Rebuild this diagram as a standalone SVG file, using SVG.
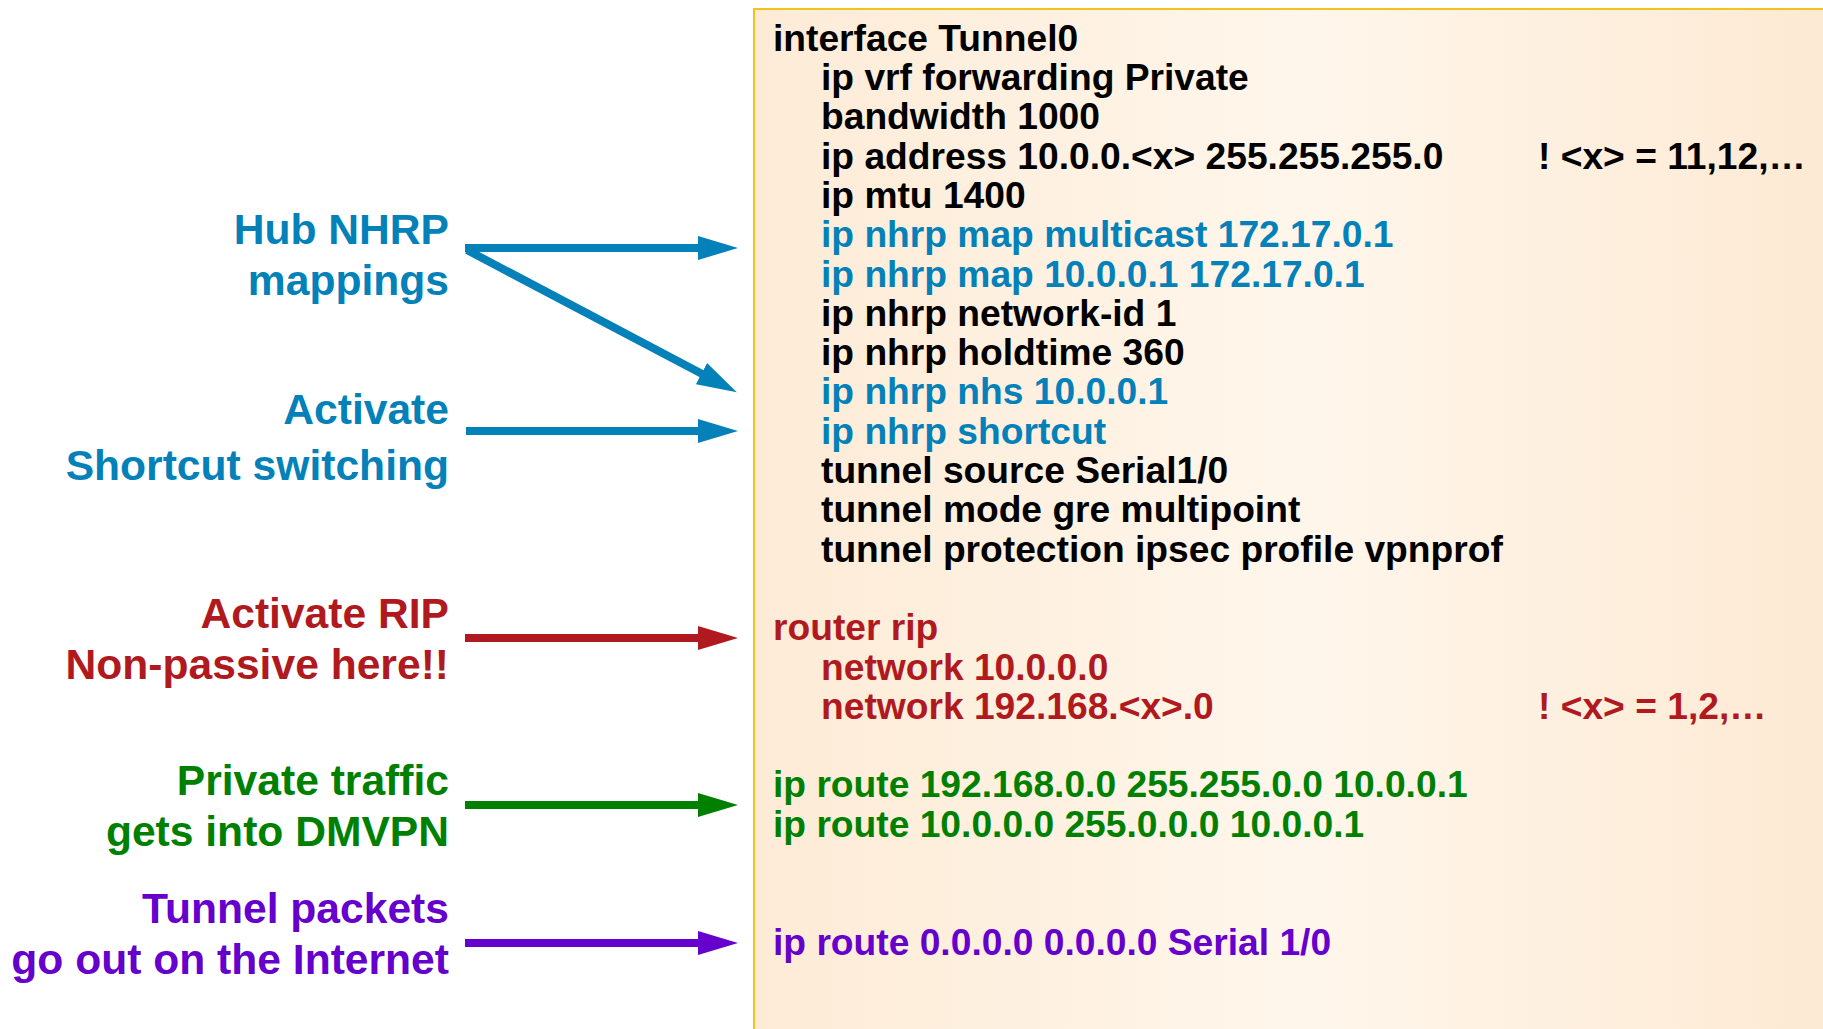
<svg xmlns="http://www.w3.org/2000/svg" width="1823" height="1029" viewBox="0 0 1823 1029">
<defs>
<linearGradient id="boxfill" x1="0" y1="0" x2="1" y2="0">
<stop offset="0" stop-color="#FDEBD6"/>
<stop offset="0.5" stop-color="#FFF6EB"/>
<stop offset="1" stop-color="#FDE9D2"/>
</linearGradient>
<marker id="mBlue" markerUnits="userSpaceOnUse" markerWidth="40" markerHeight="24" refX="10" refY="12" orient="auto"><path d="M0,0 L40,12 L0,24 z" fill="#0381B8"/></marker>
<marker id="mRed" markerUnits="userSpaceOnUse" markerWidth="40" markerHeight="24" refX="10" refY="12" orient="auto"><path d="M0,0 L40,12 L0,24 z" fill="#B01A1E"/></marker>
<marker id="mGreen" markerUnits="userSpaceOnUse" markerWidth="40" markerHeight="24" refX="10" refY="12" orient="auto"><path d="M0,0 L40,12 L0,24 z" fill="#008000"/></marker>
<marker id="mPurple" markerUnits="userSpaceOnUse" markerWidth="40" markerHeight="24" refX="10" refY="12" orient="auto"><path d="M0,0 L40,12 L0,24 z" fill="#6600CC"/></marker>
</defs>
<style>
text{font-family:"Liberation Sans",Arial,sans-serif;font-weight:bold;}
.code{font-size:37.2px;}
.lbl{font-size:42.6px;text-anchor:end;}
.k{fill:#000000;}
.b{fill:#0381B8;}
.r{fill:#B01A1E;}
.g{fill:#008000;}
.p{fill:#6600CC;}
.arr{stroke-width:8;fill:none;stroke-linecap:butt;}
</style>
<rect width="1823" height="1029" fill="#FFFFFF"/>
<g id="config-box">
<rect x="754" y="9" width="1100" height="1100" fill="url(#boxfill)" stroke="#F5C21B" stroke-width="2"/>
<text class="code k" x="773" y="51">interface Tunnel0</text>
<text class="code k" x="821" y="90">ip vrf forwarding Private</text>
<text class="code k" x="821" y="129">bandwidth 1000</text>
<text class="code k" x="821" y="169">ip address 10.0.0.&lt;x&gt; 255.255.255.0</text>
<text class="code k" x="1538" y="169">! &lt;x&gt; = 11,12,…</text>
<text class="code k" x="821" y="208">ip mtu 1400</text>
<text class="code b" x="821" y="247">ip nhrp map multicast 172.17.0.1</text>
<text class="code b" x="821" y="287">ip nhrp map 10.0.0.1 172.17.0.1</text>
<text class="code k" x="821" y="326">ip nhrp network-id 1</text>
<text class="code k" x="821" y="365">ip nhrp holdtime 360</text>
<text class="code b" x="821" y="404">ip nhrp nhs 10.0.0.1</text>
<text class="code b" x="821" y="444">ip nhrp shortcut</text>
<text class="code k" x="821" y="483">tunnel source Serial1/0</text>
<text class="code k" x="821" y="522">tunnel mode gre multipoint</text>
<text class="code k" x="821" y="562">tunnel protection ipsec profile vpnprof</text>
<text class="code r" x="773" y="640">router rip</text>
<text class="code r" x="821" y="680">network 10.0.0.0</text>
<text class="code r" x="821" y="719">network 192.168.&lt;x&gt;.0</text>
<text class="code r" x="1538" y="719">! &lt;x&gt; = 1,2,…</text>
<text class="code g" x="773" y="797">ip route 192.168.0.0 255.255.0.0 10.0.0.1</text>
<text class="code g" x="773" y="837">ip route 10.0.0.0 255.0.0.0 10.0.0.1</text>
<text class="code p" x="773" y="955">ip route 0.0.0.0 0.0.0.0 Serial 1/0</text>
</g>
<g id="label-hub">
<text class="lbl b" x="449" y="244">Hub NHRP</text>
<text class="lbl b" x="449" y="295">mappings</text>
</g>
<g id="label-shortcut">
<text class="lbl b" x="449" y="424">Activate</text>
<text class="lbl b" x="449" y="480">Shortcut switching</text>
</g>
<g id="label-rip">
<text class="lbl r" x="449" y="628">Activate RIP</text>
<text class="lbl r" x="449" y="679">Non-passive here!!</text>
</g>
<g id="label-private">
<text class="lbl g" x="449" y="795">Private traffic</text>
<text class="lbl g" x="449" y="846">gets into DMVPN</text>
</g>
<g id="label-tunnel">
<text class="lbl p" x="449" y="923">Tunnel packets</text>
<text class="lbl p" x="449" y="974">go out on the Internet</text>
</g>
<g id="connectors">
<line class="arr" x1="465" y1="248" x2="708" y2="248" stroke="#0381B8" marker-end="url(#mBlue)"/>
<line class="arr" x1="467" y1="250" x2="710.3" y2="378.3" stroke="#0381B8" marker-end="url(#mBlue)"/>
<line class="arr" x1="466" y1="431" x2="708" y2="431" stroke="#0381B8" marker-end="url(#mBlue)"/>
<line class="arr" x1="465" y1="638" x2="708" y2="638" stroke="#B01A1E" marker-end="url(#mRed)"/>
<line class="arr" x1="465" y1="805" x2="708" y2="805" stroke="#008000" marker-end="url(#mGreen)"/>
<line class="arr" x1="465" y1="943" x2="708" y2="943" stroke="#6600CC" marker-end="url(#mPurple)"/>
</g>
</svg>
